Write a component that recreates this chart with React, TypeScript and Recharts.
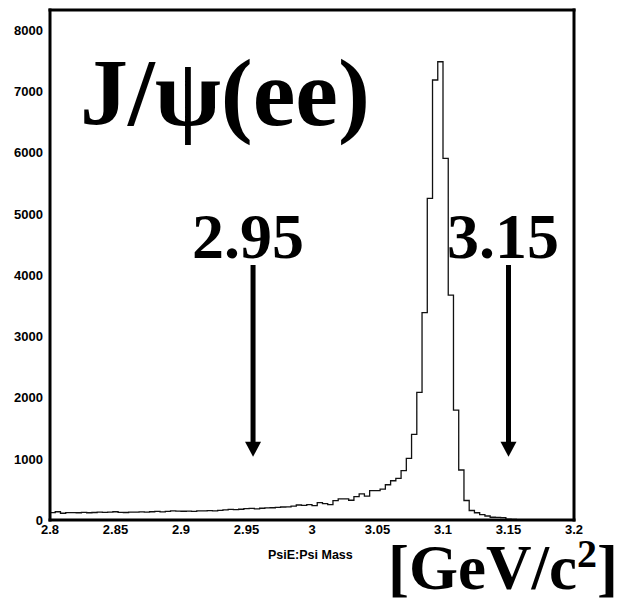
import {
  ComposedChart,
  Line,
  XAxis,
  YAxis,
  ReferenceLine,
} from "recharts";

// J/psi -> ee invariant mass histogram, 100 bins of 0.004 from 2.8 to 3.2
const binLow = 2.8;
const binWidth = 0.004;

const counts = [
  // 2.800 - 2.896
  120, 135, 110, 120, 120, 118, 125, 118, 122, 130,
  125, 128, 135, 125, 122, 128, 130, 133, 128, 135,
  140, 132, 140, 150, 145,
  // 2.900 - 2.996
  143, 145, 140, 148, 150, 152, 150, 158, 165, 172,
  168, 175, 185, 190, 180, 192, 198, 200, 205, 212,
  215, 225, 245, 240, 250,
  // 3.000 - 3.096
  235, 285, 268, 250, 315, 345, 345, 322, 380, 425,
  390, 478, 478, 505, 575, 640, 680, 805, 1006, 1398,
  2083, 3382, 5248, 7178, 7476,
  // 3.100 - 3.196
  5900, 3670, 1794, 816, 318, 155, 118, 88, 65, 45,
  42, 40, 15, 8, 5, 4, 3, 2, 2, 1,
  1, 0, 0, 0, 0,
];

const xTicks = [
  2.8, 2.81, 2.82, 2.83, 2.84, 2.85, 2.86, 2.87, 2.88, 2.89,
  2.9, 2.91, 2.92, 2.93, 2.94, 2.95, 2.96, 2.97, 2.98, 2.99,
  3.0, 3.01, 3.02, 3.03, 3.04, 3.05, 3.06, 3.07, 3.08, 3.09,
  3.1, 3.11, 3.12, 3.13, 3.14, 3.15, 3.16, 3.17, 3.18, 3.19, 3.2,
];
const xMajor = [2.8, 2.85, 2.9, 2.95, 3.0, 3.05, 3.1, 3.15, 3.2];
const xLabels = ["2.8", "2.85", "2.9", "2.95", "3", "3.05", "3.1", "3.15", "3.2"];

const yTicks = [
  0, 200, 400, 600, 800, 1000, 1200, 1400, 1600, 1800,
  2000, 2200, 2400, 2600, 2800, 3000, 3200, 3400, 3600, 3800,
  4000, 4200, 4400, 4600, 4800, 5000, 5200, 5400, 5600, 5800,
  6000, 6200, 6400, 6600, 6800, 7000, 7200, 7400, 7600, 7800,
  8000, 8200,
];
const yMajor = [0, 1000, 2000, 3000, 4000, 5000, 6000, 7000, 8000];

const xMin = 2.8;
const xMax = 3.2;
const yMax = 8320;

// mass window cuts marked by arrows
const cutLow = 2.955;
const cutHigh = 3.15;
const arrowTop = 4160;
const arrowTip = 1030;

const data = counts.map((c, i) => ({
  mass: +(binLow + i * binWidth).toFixed(3),
  n: c,
}));
data.push({ mass: xMax, n: counts[counts.length - 1] });

const labelFont = "'Liberation Sans', Arial, sans-serif";
const bigFont = "'Liberation Serif', 'Times New Roman', serif";
const tickStroke = { stroke: "#000", strokeWidth: 1.5 };

const XTick = (props: any) => {
  const { x, y, payload } = props;
  const idx = xMajor.findIndex((m) => Math.abs(m - payload.value) < 1e-6);
  if (idx < 0) return <g />;
  return (
    <text
      x={x}
      y={y + 14}
      textAnchor="middle"
      fontFamily={labelFont}
      fontWeight="bold"
      fontSize={13}
      fill="#000"
    >
      {xLabels[idx]}
    </text>
  );
};

const YTick = (props: any) => {
  const { x, y, payload } = props;
  if (!yMajor.includes(payload.value)) return <g />;
  return (
    <text
      x={x - 7}
      y={y + 5}
      textAnchor="end"
      fontFamily={labelFont}
      fontWeight="bold"
      fontSize={13}
      fill="#000"
    >
      {payload.value}
    </text>
  );
};

const NoLabel = () => <g />;

const Arrow = (props: any) => {
  const { x1, y1, x2, y2 } = props;
  const head = 15;
  return (
    <g>
      <line x1={x1} y1={y1} x2={x2} y2={y2 - head + 1} stroke="#000" strokeWidth={5} />
      <polygon
        points={`${x2 - 8},${y2 - head} ${x2 + 8},${y2 - head} ${x2},${y2}`}
        fill="#000"
      />
    </g>
  );
};

const frameSides = [
  [{ x: xMin, y: 0 }, { x: xMax, y: 0 }],
  [{ x: xMin, y: yMax }, { x: xMax, y: yMax }],
  [{ x: xMin, y: 0 }, { x: xMin, y: yMax }],
  [{ x: xMax, y: 0 }, { x: xMax, y: yMax }],
];

export default function App() {
  return (
    <div style={{ position: "absolute", left: 0, top: 0, background: "#fff" }}>
      <ComposedChart
        width={621}
        height={604}
        data={data}
        margin={{ top: 10, right: 47, left: 0, bottom: 54 }}
      >
        {/* zero-size axes that only draw the inward ROOT-style tick marks */}
        <XAxis
          xAxisId="xminor"
          dataKey="mass"
          type="number"
          domain={[xMin, xMax]}
          ticks={xTicks}
          interval={0}
          axisLine={false}
          tickLine={tickStroke}
          tickSize={-6}
          tickMargin={0}
          height={0}
          tick={<NoLabel />}
        />
        <XAxis
          xAxisId="xmajor"
          dataKey="mass"
          type="number"
          domain={[xMin, xMax]}
          ticks={xMajor}
          interval={0}
          axisLine={false}
          tickLine={tickStroke}
          tickSize={-11}
          tickMargin={0}
          height={0}
          tick={<NoLabel />}
        />
        <YAxis
          yAxisId="yminor"
          type="number"
          domain={[0, yMax]}
          ticks={yTicks}
          interval={0}
          allowDataOverflow
          axisLine={false}
          tickLine={tickStroke}
          tickSize={-6}
          tickMargin={0}
          width={0}
          tick={<NoLabel />}
        />
        <YAxis
          yAxisId="ymajor"
          type="number"
          domain={[0, yMax]}
          ticks={yMajor}
          interval={0}
          allowDataOverflow
          axisLine={false}
          tickLine={tickStroke}
          tickSize={-11}
          tickMargin={0}
          width={0}
          tick={<NoLabel />}
        />
        {/* label axes used by the histogram */}
        <XAxis
          dataKey="mass"
          type="number"
          domain={[xMin, xMax]}
          ticks={xTicks}
          interval={0}
          axisLine={false}
          tickLine={false}
          tickSize={0}
          tickMargin={0}
          height={30}
          tick={<XTick />}
        />
        <YAxis
          type="number"
          domain={[0, yMax]}
          ticks={yTicks}
          interval={0}
          allowDataOverflow
          axisLine={false}
          tickLine={false}
          tickSize={0}
          tickMargin={0}
          width={50}
          tick={<YTick />}
        />
        <Line
          type="stepAfter"
          dataKey="n"
          stroke="#111"
          strokeWidth={1.3}
          dot={false}
          activeDot={false}
          isAnimationActive={false}
        />
        {frameSides.map((seg, i) => (
          <ReferenceLine
            key={`frame${i}`}
            segment={seg}
            stroke="#000"
            strokeWidth={3}
            strokeLinecap="square"
          />
        ))}
        <ReferenceLine
          segment={[
            { x: cutLow, y: arrowTop },
            { x: cutLow, y: arrowTip },
          ]}
          shape={Arrow}
        />
        <ReferenceLine
          segment={[
            { x: cutHigh, y: arrowTop },
            { x: cutHigh, y: arrowTip },
          ]}
          shape={Arrow}
        />
        <text x={80} y={125} fontFamily={bigFont} fontWeight="bold" fontSize={96} fill="#000">
          J/ψ(ee)
        </text>
        <text x={192} y={258} fontFamily={bigFont} fontWeight="bold" fontSize={64} fill="#000">
          2.95
        </text>
        <text x={447} y={258} fontFamily={bigFont} fontWeight="bold" fontSize={64} fill="#000">
          3.15
        </text>
        <text x={268} y={559} fontFamily={labelFont} fontWeight="bold" fontSize={12.5} fill="#000">
          PsiE:Psi Mass
        </text>
        <text x={388} y={589} fontFamily={bigFont} fontWeight="bold" fontSize={63} fill="#000">
          [GeV/c
          <tspan fontSize={40} dy={-22}>
            2
          </tspan>
          <tspan dy={22}>]</tspan>
        </text>
      </ComposedChart>
    </div>
  );
}
